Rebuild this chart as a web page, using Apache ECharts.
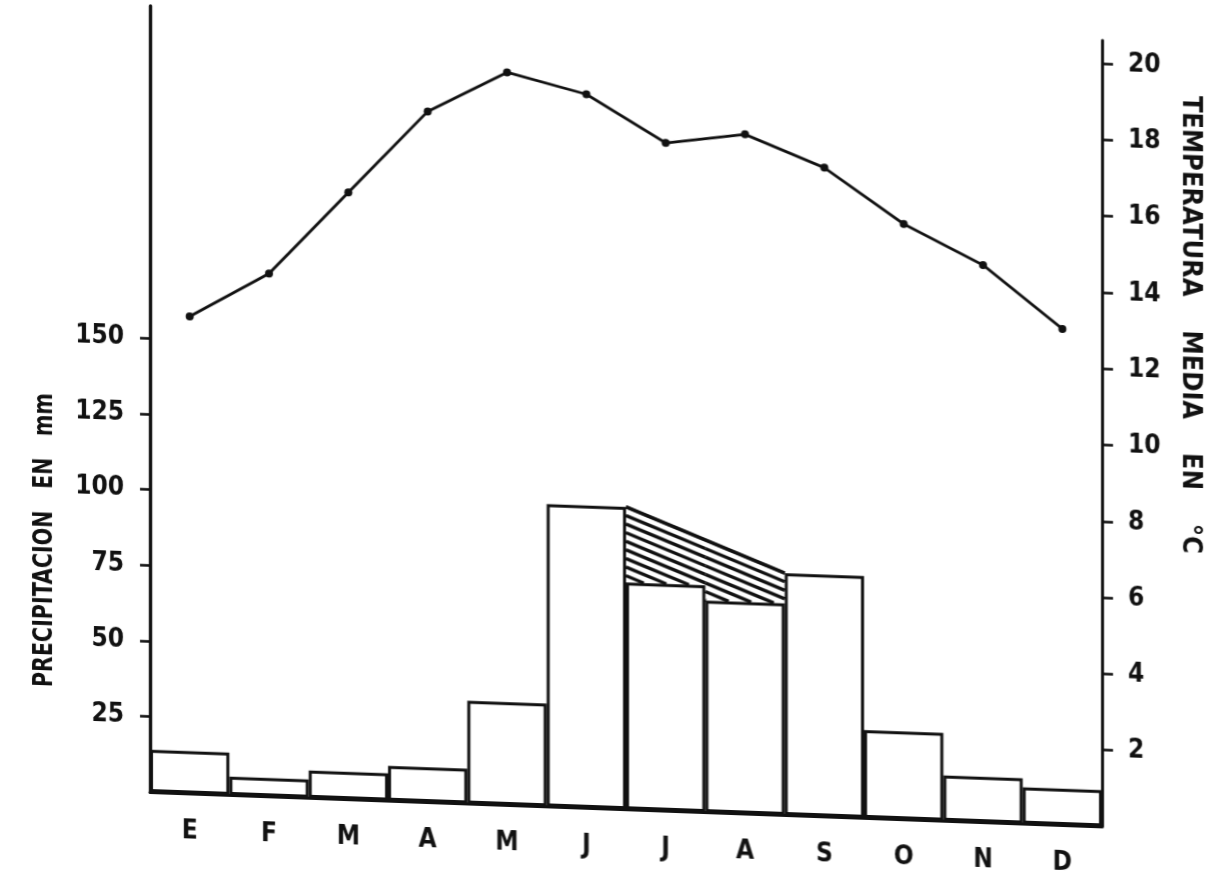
<!DOCTYPE html>
<html>
<head>
<meta charset="utf-8">
<title>Climograma</title>
<script src="https://cdn.jsdelivr.net/npm/echarts@6/dist/echarts.min.js"></script>
<style>
  html, body { margin: 0; padding: 0; background: #ffffff; overflow: hidden; }
  /* the hand-drawn sheet leans: its baseline drops toward the right */
  #chart { width: 1220px; height: 871px; transform: skewY(2.07deg); transform-origin: 150px 792px; }
</style>
</head>
<body>
<div id="chart"></div>
<script>
// Monthly climate record
const months = ['E', 'F', 'M', 'A', 'M', 'J', 'J', 'A', 'S', 'O', 'N', 'D'];
const precipitation = [14, 6, 9, 11.5, 34, 100, 75, 70, 80, 29, 15, 12];   // mm
const temperature = [12.5, 13.7, 15.9, 18.1, 19.2, 18.7, 17.5, 17.8, 17.0, 15.6, 14.6, 13.0]; // °C
const precipTicks = [25, 50, 75, 100, 125, 150];
const tempTicks = [2, 4, 6, 8, 10, 12, 14, 16, 18, 20];
// months whose tops are joined by the shaded slope (first and last index)
const hatchSpan = [5, 8];

const FONT = "'Liberation Sans Narrow', 'DejaVu Sans Condensed', 'DejaVu Sans', sans-serif";
const INK = '#111111';

const chart = echarts.init(document.getElementById('chart'), null, { renderer: 'canvas' });

// Shaded wedge between the line joining two bar tops and the lower bars in between
function renderHatch(params, api) {
  const from = api.value(0);
  const to = api.value(1);
  const w = api.size([1, 0])[0];
  const a = api.coord([from, precipitation[from]]);
  const b = api.coord([to, precipitation[to]]);
  const xA = a[0] + w / 2, yA = a[1];
  const xB = b[0] - w / 2, yB = b[1];
  const slope = (yB - yA) / (xB - xA);
  const topY = x => yA + slope * (x - xA);
  const gap = 8.6;
  const children = [];
  for (let i = from + 1; i < to; i++) {
    const c = api.coord([i, precipitation[i]]);
    const x0 = c[0] - w / 2, x1 = c[0] + w / 2, yb = c[1];
    for (let k = 0; k < 40; k++) {
      const off = k * gap;
      if (topY(x0) + off > yb) break;
      const xe = Math.min(x1, xA + (yb - off - yA) / slope);
      children.push({
        type: 'line',
        shape: { x1: x0, y1: topY(x0) + off, x2: xe, y2: topY(xe) + off },
        style: { stroke: INK, lineWidth: 3.4 }
      });
    }
  }
  children.push({
    type: 'line',
    shape: { x1: xA, y1: yA, x2: xB, y2: yB },
    style: { stroke: INK, lineWidth: 3.2 }
  });
  return { type: 'group', children: children };
}

const option = {
  backgroundColor: '#ffffff',
  animation: false,
  grid: { left: 150, right: 118, top: 6, bottom: 79, containLabel: false, outerBoundsMode: 'none' },
  xAxis: {
    type: 'category',
    data: months,
    boundaryGap: true,
    axisLine: { lineStyle: { color: INK, width: 3 } },
    axisTick: { show: false },
    axisLabel: { color: INK, fontFamily: FONT, fontWeight: 'bold', fontSize: 26, margin: 25 },
    splitLine: { show: false }
  },
  yAxis: [
    {
      type: 'value',
      position: 'left',
      min: 0,
      max: 260,
      axisLine: { show: true, lineStyle: { color: INK, width: 3.4 } },
      axisTick: { show: true, length: 10, customValues: precipTicks, lineStyle: { color: INK, width: 2.6 } },
      axisLabel: {
        customValues: precipTicks, color: INK, fontFamily: FONT, fontWeight: 'bold',
        fontSize: 26, margin: 26, padding: [0, 0, 16, 0]
      },
      splitLine: { show: false }
    },
    {
      type: 'value',
      position: 'right',
      min: 0,
      max: 20.6,
      axisLine: { show: true, lineStyle: { color: INK, width: 3 } },
      axisTick: { show: true, length: 11, customValues: tempTicks, lineStyle: { color: INK, width: 2.6 } },
      axisLabel: {
        customValues: tempTicks, color: INK, fontFamily: FONT, fontWeight: 'bold',
        fontSize: 26, margin: 26, padding: [0, 0, 12, 0]
      },
      splitLine: { show: false }
    }
  ],
  graphic: [
    {
      type: 'text', x: 45, y: 544, rotation: Math.PI / 2, scaleX: 0.85,
      style: {
        text: 'PRECIPITACION   EN   mm', fill: INK, fontFamily: FONT, fontWeight: 'bold', fontSize: 27,
        textAlign: 'center', textVerticalAlign: 'middle'
      }
    },
    {
      type: 'text', x: 1190, y: 287, rotation: -Math.PI / 2, scaleX: 1.0,
      style: {
        text: 'TEMPERATURA    MEDIA    EN    °C', fill: INK, fontFamily: FONT, fontWeight: 'bold', fontSize: 27,
        textAlign: 'center', textVerticalAlign: 'middle'
      }
    }
  ],
  series: [
    {
      name: 'Precipitación',
      type: 'bar',
      yAxisIndex: 0,
      data: precipitation,
      barWidth: '100%',
      barCategoryGap: 0,
      itemStyle: { color: '#ffffff', borderColor: INK, borderWidth: 3 },
      z: 2
    },
    {
      name: 'Exceso',
      type: 'custom',
      coordinateSystem: 'cartesian2d',
      xAxisIndex: 0,
      yAxisIndex: 0,
      data: [hatchSpan],
      renderItem: renderHatch,
      silent: true,
      z: 3
    },
    {
      name: 'Temperatura',
      type: 'line',
      yAxisIndex: 1,
      data: temperature,
      symbol: 'circle',
      symbolSize: 8,
      lineStyle: { color: INK, width: 2.8 },
      itemStyle: { color: INK },
      z: 4
    }
  ]
};

chart.setOption(option);
</script>
</body>
</html>
